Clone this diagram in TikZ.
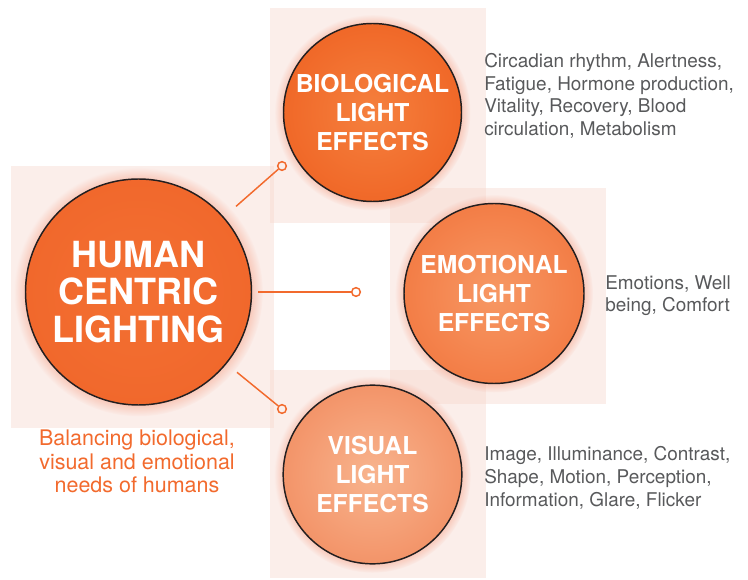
\documentclass[tikz,border=0pt]{standalone}
\usepackage{fontspec}
\setmainfont{TeX Gyre Heros}
\usetikzlibrary{shadows,fadings}

\definecolor{hcorange}{RGB}{242,106,45}
\definecolor{panelpink}{RGB}{245,212,202}
\definecolor{glowpink}{RGB}{245,165,140}
\definecolor{ballrim}{RGB}{35,31,32}
\definecolor{notegray}{RGB}{88,89,91}

\begin{document}
\begin{tikzpicture}[x=0.75pt, y=-0.75pt,
    panel/.style={fill=panelpink, fill opacity=0.4},
    ball/.style={circle, draw=ballrim, line width=1.1pt, inner sep=0pt,
      text=white, align=center, shading=radial,
      circular glow={fill=glowpink, opacity=0.8, shadow scale=1.1}},
    link/.style={draw=hcorange, line width=1.1pt},
    ring/.style={circle, draw=hcorange, line width=1.1pt, minimum size=6.5pt, inner sep=0pt},
    notes/.style={text=notegray, align=left, anchor=north west, inner sep=0pt,
      font=\fontsize{14.2}{17}\selectfont}]
  \useasboundingbox (0,0) rectangle (748,580);

  % pale panels behind the circles
  \fill [panel] (11,166) rectangle (274,428);
  \fill [panel] (270,8) rectangle (486,223);
  \fill [panel] (390,188) rectangle (606,404);
  \fill [panel] (270,370) rectangle (486,578);

  % circles
  \node [ball, minimum size=169.5pt, inner color={rgb,255:red,243;green,112;blue,50},
    outer color={rgb,255:red,241;green,104;blue,44},
    font=\fontsize{27}{28}\selectfont\bfseries] (hcl) at (138.5,292)
    {HUMAN\\CENTRIC\\LIGHTING};
  \node [ball, minimum size=133.5pt, inner color={rgb,255:red,245;green,128;blue,62},
    outer color={rgb,255:red,240;green,104;blue,40},
    font=\fontsize{18.5}{21.5}\selectfont\bfseries] (bio) at (372.5,112.5)
    {BIOLOGICAL\\LIGHT\\EFFECTS};
  \node [ball, minimum size=135pt, inner color={rgb,255:red,247;green,152;blue,100},
    outer color={rgb,255:red,243;green,125;blue,70},
    font=\fontsize{18.5}{21.5}\selectfont\bfseries] (emo) at (494,293.5)
    {EMOTIONAL\\LIGHT\\EFFECTS};
  \node [ball, minimum size=134pt, inner color={rgb,255:red,248;green,180;blue,142},
    outer color={rgb,255:red,243;green,148;blue,105},
    font=\fontsize{18.5}{21.5}\selectfont\bfseries] (vis) at (372.5,474.5)
    {VISUAL\\LIGHT\\EFFECTS};

  % connectors
  \node [ring] (ringbio) at (282,166) {};
  \node [ring] (ringemo) at (356,292) {};
  \node [ring] (ringvis) at (282,409) {};
  \draw [link, shorten >=12pt] (ringbio) -- (hcl);
  \draw [link, shorten >=4.5pt] (ringemo) -- (hcl);
  \draw [link, shorten >=10pt] (ringvis) -- (hcl);

  % texts
  \node [notes] (notebio) at (484,53) {Circadian rhythm, Alertness,\\Fatigue, Hormone production,\\Vitality, Recovery, Blood\\circulation, Metabolism};
  \node [notes] (noteemo) at (605,275) {Emotions, Well\\being, Comfort};
  \node [notes] (notevis) at (484,446.5) {Image, Illuminance, Contrast,\\Shape, Motion, Perception,\\Information, Glare, Flicker};
  \node [text=hcorange, align=center, anchor=north, inner sep=0pt,
    font=\fontsize{16.1}{17.6}\selectfont] (caption) at (137,430)
    {Balancing biological,\\visual and emotional\\needs of humans};
\end{tikzpicture}
\end{document}
